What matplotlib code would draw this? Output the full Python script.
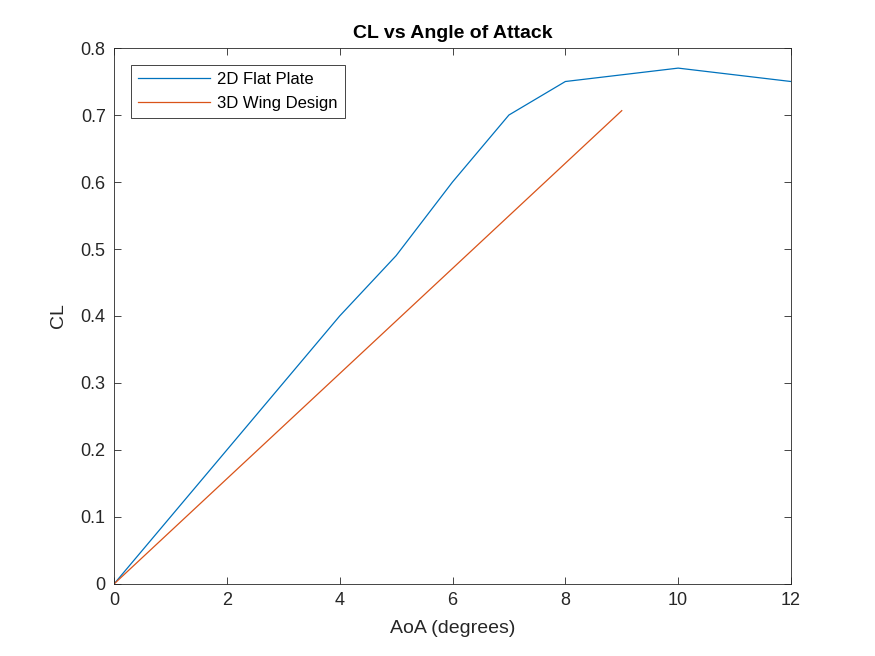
import matplotlib
matplotlib.use("Agg")
import matplotlib.pyplot as plt

plt.rcParams["font.family"] = ["Liberation Sans", "DejaVu Sans"]

# 2D flat plate lift curve
aoa_2d = [0, 1, 2, 3, 4, 5, 6, 7, 8, 10, 12]
cl_2d = [0.0, 0.1, 0.2, 0.3, 0.4, 0.49, 0.6, 0.7, 0.75, 0.77, 0.75]

# 3D wing design lift curve
aoa_3d = [0, 1, 2, 3, 4, 5, 6, 7, 8, 9]
cl_3d = [0.0, 0.0785, 0.157, 0.2355, 0.314, 0.3925, 0.471, 0.5495, 0.628, 0.7065]

fig = plt.figure(figsize=(8.75, 6.56), dpi=100)
ax = fig.add_axes([0.1303, 0.1098, 0.904 - 0.1303, 0.9268 - 0.1098])

ax.plot(aoa_2d, cl_2d, color="#0072BD", lw=0.9, label="2D Flat Plate")
ax.plot(aoa_3d, cl_3d, color="#D95319", lw=0.9, label="3D Wing Design")

ax.set_xlim(0, 12)
ax.set_ylim(0, 0.8)
ax.set_xticks(range(0, 13, 2))
ax.set_yticks([0, 0.1, 0.2, 0.3, 0.4, 0.5, 0.6, 0.7, 0.8])
ax.set_yticklabels(["0", "0.1", "0.2", "0.3", "0.4", "0.5", "0.6", "0.7", "0.8"])
ax.tick_params(direction="in", length=5, width=0.6, labelsize=13, colors="#262626",
               top=True, right=True, labelcolor="#262626", pad=6)
for spine in ax.spines.values():
    spine.set_color("#262626")
    spine.set_linewidth(0.6)

ax.set_xlabel("AoA (degrees)", fontsize=14, color="#262626", labelpad=8)
ax.set_ylabel("CL", fontsize=14, color="#262626", labelpad=10)
ax.set_title("CL vs Angle of Attack", fontsize=14, fontweight="bold", color="black", pad=7)

leg = ax.legend(loc="upper left", fancybox=False, edgecolor="#262626", framealpha=1,
                fontsize=12, handlelength=4.3, borderaxespad=1.0, borderpad=0.45,
                labelspacing=0.5, handletextpad=0.45, bbox_to_anchor=(0.0, 1.0))
leg.get_frame().set_linewidth(0.6)

fig.savefig("out.png", dpi=100, facecolor="white")
